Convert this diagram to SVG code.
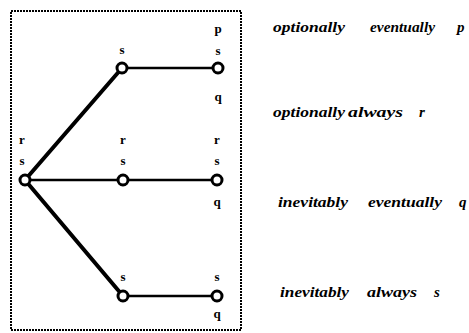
<svg xmlns="http://www.w3.org/2000/svg" width="469" height="333" viewBox="0 0 469 333">
<style>
.lbl{font-family:"Liberation Serif","Times New Roman",serif;font-weight:bold;font-size:13px;fill:#000;text-anchor:middle}
.cap{font-family:"Liberation Serif","Times New Roman",serif;font-weight:bold;font-style:italic;font-size:15px;fill:#000}
.node{fill:#fff;stroke:#000;stroke-width:3}
.thick{stroke:#000;stroke-width:4;fill:none;stroke-linecap:round}
.thin{stroke:#000;stroke-width:2.5;fill:none}
</style>
<rect x="11" y="11" width="230" height="319" fill="none" stroke="#000" stroke-width="2" stroke-dasharray="2 1"/>
<g id="connectors">
<line class="thick" x1="25" y1="180" x2="122" y2="68"/>
<line class="thick" x1="25" y1="180" x2="123" y2="296"/>
<line class="thin" x1="25" y1="180" x2="217" y2="180"/>
<line class="thin" x1="122" y1="68" x2="218" y2="68"/>
<line class="thin" x1="123" y1="296" x2="217" y2="296"/>
</g>
<g id="n0"><circle class="node" cx="25" cy="180" r="5"/><text class="lbl" x="22" y="144">r</text><text class="lbl" x="22" y="165">s</text></g>
<g id="n1"><circle class="node" cx="122" cy="68" r="5"/><text class="lbl" x="122" y="54">s</text></g>
<g id="n2"><circle class="node" cx="218" cy="68" r="5"/><text class="lbl" x="218" y="33">p</text><text class="lbl" x="218" y="55">s</text><text class="lbl" x="218" y="101">q</text></g>
<g id="n3"><circle class="node" cx="123" cy="180" r="5"/><text class="lbl" x="123" y="144">r</text><text class="lbl" x="123" y="165">s</text></g>
<g id="n4"><circle class="node" cx="217" cy="180" r="5"/><text class="lbl" x="217" y="144">r</text><text class="lbl" x="217" y="165">s</text><text class="lbl" x="217" y="206">q</text></g>
<g id="n5"><circle class="node" cx="123" cy="296" r="5"/><text class="lbl" x="123" y="281">s</text></g>
<g id="n6"><circle class="node" cx="217" cy="296" r="5"/><text class="lbl" x="217" y="281">s</text><text class="lbl" x="217" y="318">q</text></g>
<g id="captions">
<text class="cap" x="273" y="32" textLength="72" lengthAdjust="spacingAndGlyphs">optionally</text>
<text class="cap" x="370" y="32" textLength="65" lengthAdjust="spacingAndGlyphs">eventually</text>
<text class="cap" x="457" y="32">p</text>
<text class="cap" x="273" y="117" textLength="72" lengthAdjust="spacingAndGlyphs">optionally</text>
<text class="cap" x="348" y="117" textLength="55" lengthAdjust="spacingAndGlyphs">always</text>
<text class="cap" x="419" y="117">r</text>
<text class="cap" x="278" y="207" textLength="70" lengthAdjust="spacingAndGlyphs">inevitably</text>
<text class="cap" x="368" y="207" textLength="74" lengthAdjust="spacingAndGlyphs">eventually</text>
<text class="cap" x="459" y="207">q</text>
<text class="cap" x="280" y="297" textLength="69" lengthAdjust="spacingAndGlyphs">inevitably</text>
<text class="cap" x="367" y="297" textLength="50" lengthAdjust="spacingAndGlyphs">always</text>
<text class="cap" x="434" y="297">s</text>
</g>
</svg>
